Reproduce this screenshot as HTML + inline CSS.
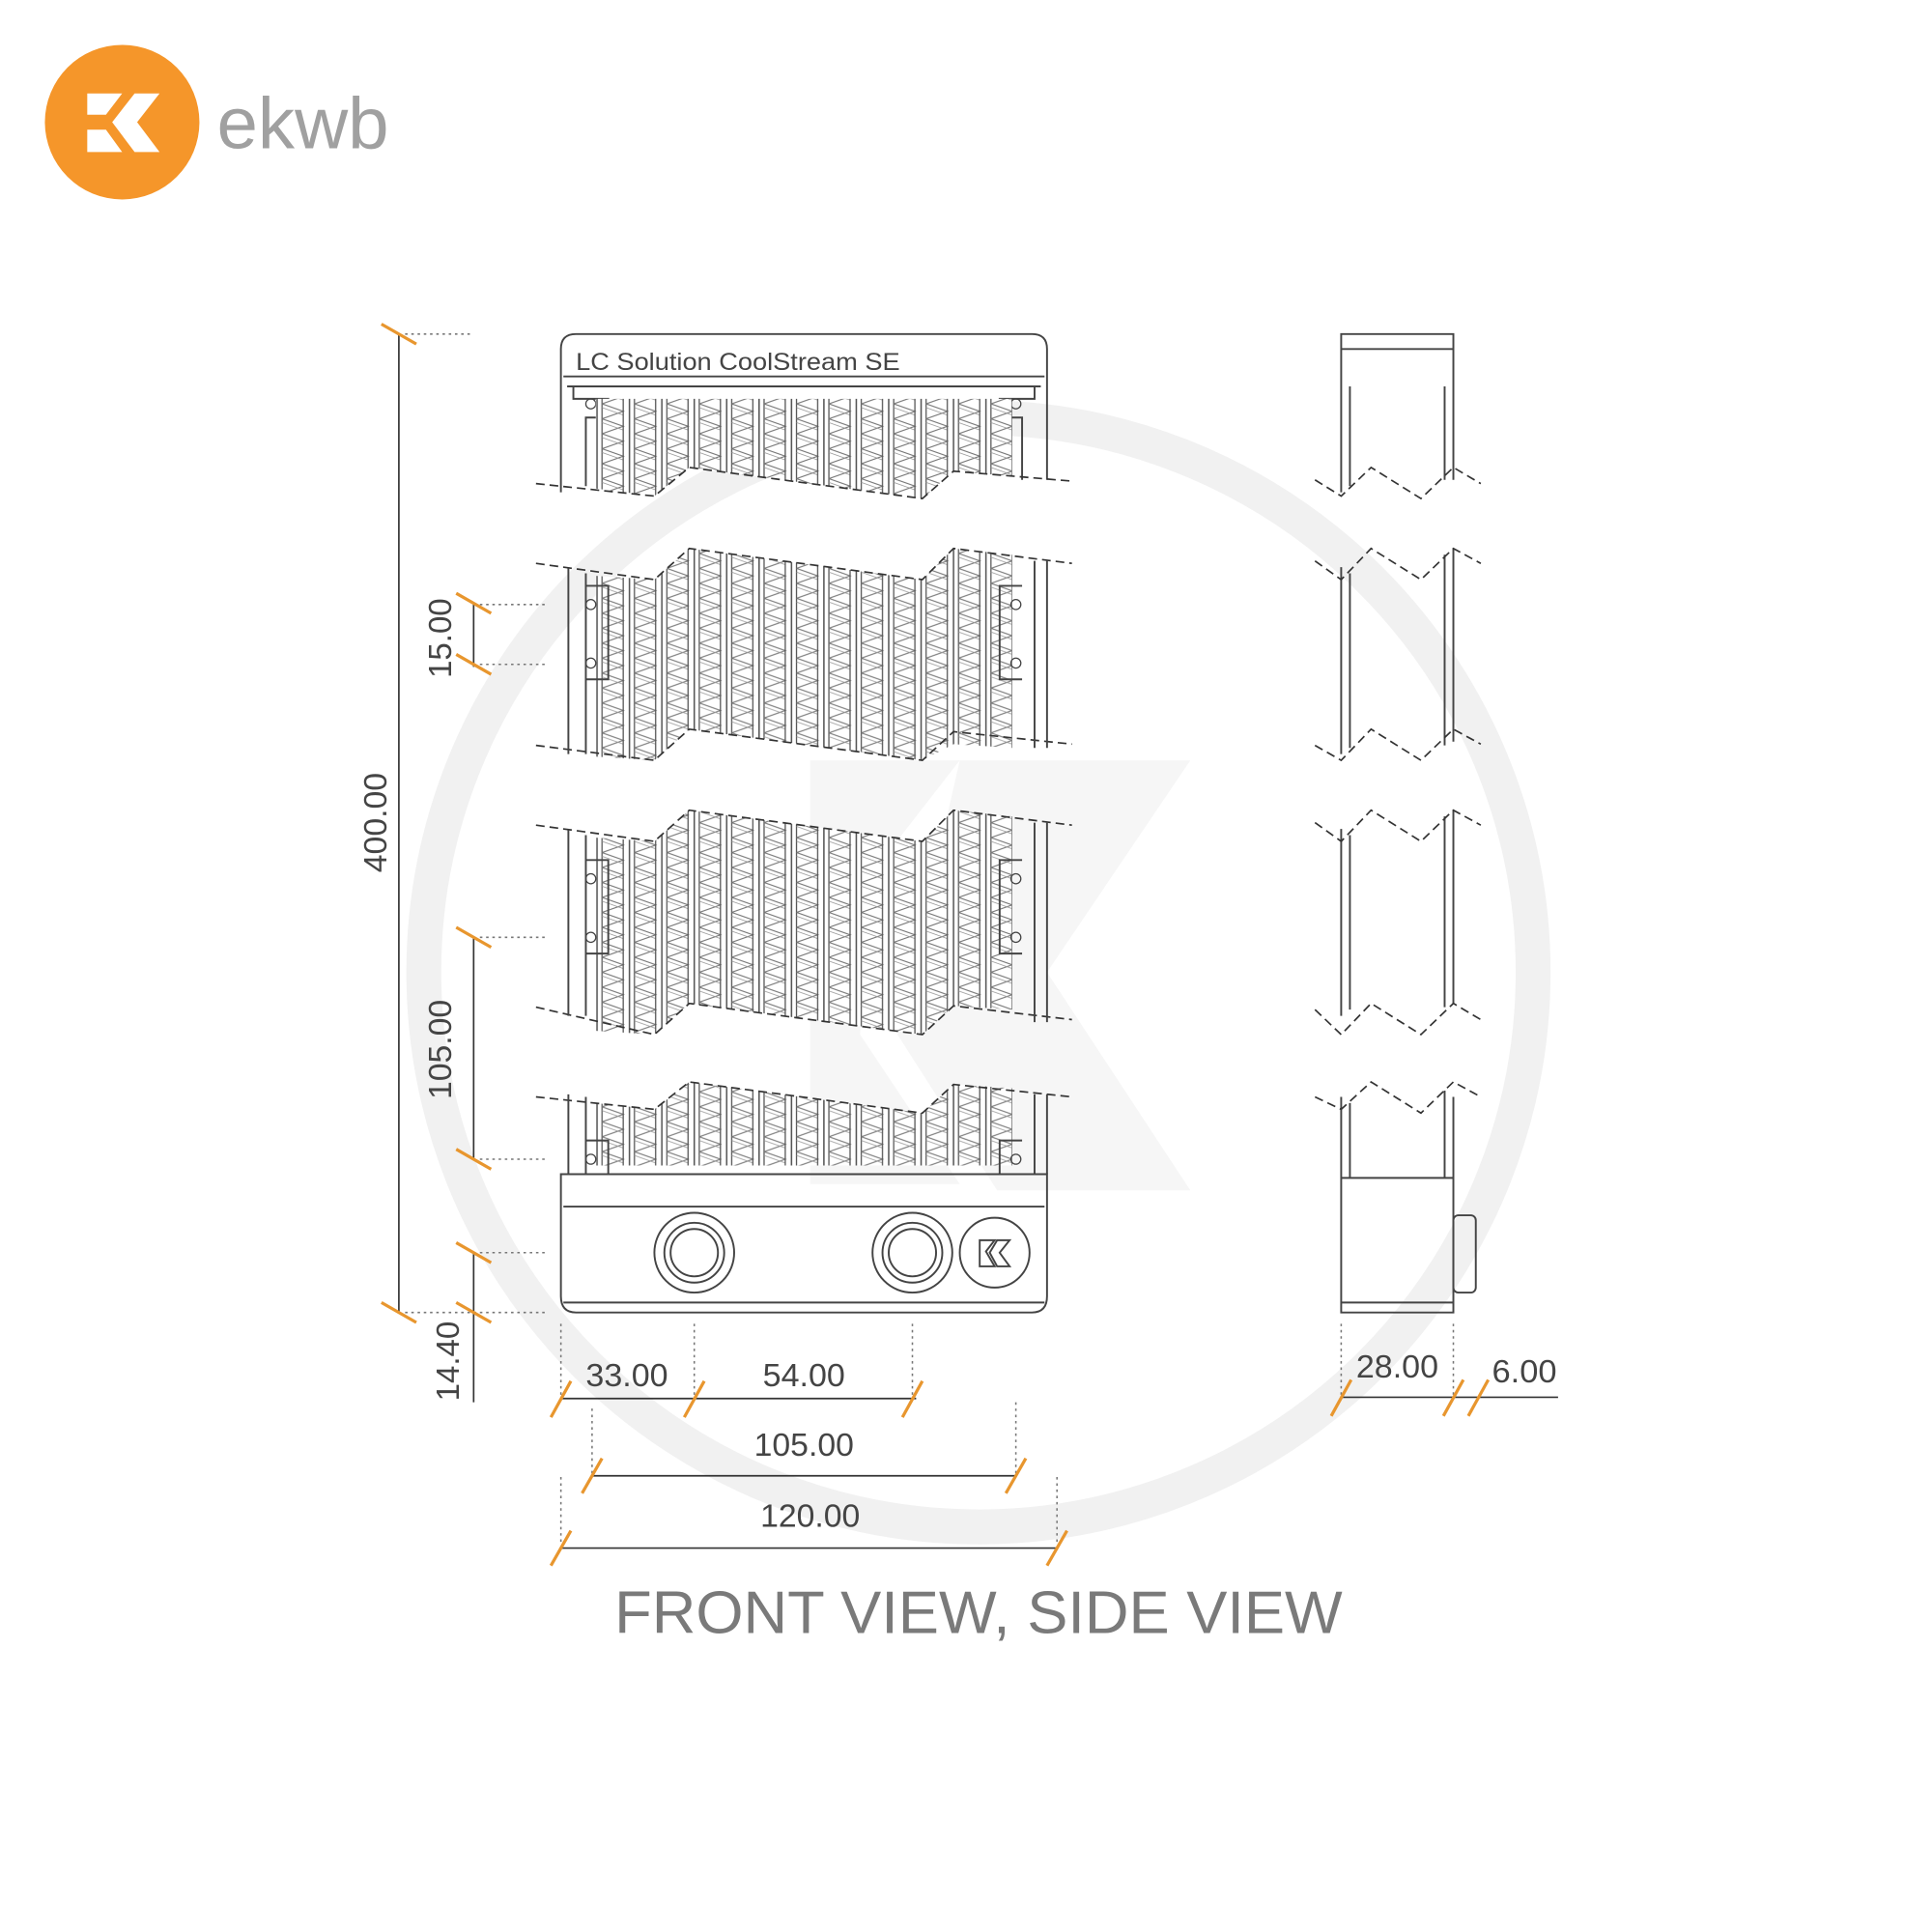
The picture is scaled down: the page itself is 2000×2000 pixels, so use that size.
<!DOCTYPE html>
<html><head><meta charset="utf-8"><style>
html,body{margin:0;padding:0;background:#fff}
svg{display:block}
</style></head><body>
<svg width="2000" height="2000" viewBox="0 0 1550 1550" xmlns="http://www.w3.org/2000/svg" font-family="Liberation Sans, sans-serif">
<defs>
<pattern id="fin" x="478" y="0" width="26" height="12" patternUnits="userSpaceOnUse">
<rect width="26" height="12" fill="#fff"/>
<line x1="1" y1="0" x2="1" y2="12" stroke="#555" stroke-width="1.2"/>
<line x1="5" y1="0" x2="5" y2="12" stroke="#555" stroke-width="1"/>
<polyline points="5,0 22,6 5,12" fill="none" stroke="#777" stroke-width="0.9"/>
<polyline points="5,3 22,9" fill="none" stroke="#999" stroke-width="0.6"/>
<line x1="22" y1="0" x2="22" y2="12" stroke="#555" stroke-width="1"/>
</pattern>
</defs>
<rect width="1550" height="1550" fill="#fff"/>
<circle cx="785" cy="780" r="445" fill="none" stroke="#f1f1f1" stroke-width="28"/>
<path d="M650 610 L770 610 L700 700 L690 830 L770 950 L650 950 Z M770 610 L955 610 L840 780 L955 955 L800 955 L720 830 Z" fill="#f6f6f6"/>
<circle cx="98" cy="98" r="62" fill="#f5962a"/>
<path d="M70 75 L98 75 L85 92 L70 92 Z M70 104 L85 104 L98 122 L70 122 Z M108 75 L128 75 L110 98 L128 122 L108 122 L90 98 Z" fill="#fff"/>
<text x="174" y="119" font-size="58" fill="#a0a0a0" textLength="138" lengthAdjust="spacingAndGlyphs">ekwb</text>

<g fill="none" stroke="#444" stroke-width="1.5">
<path d="M450 395 L450 280 Q450 268 462 268 L828 268 Q840 268 840 280 L840 385"/>
<line x1="452" y1="302" x2="838" y2="302"/>
<line x1="455" y1="310" x2="835" y2="310"/>
<path d="M460 310 L460 320 L488 320 L488 335 L470 335 L470 390"/>
<path d="M830 310 L830 320 L802 320 L802 335 L820 335 L820 385"/>
</g>
<text x="462" y="297" font-size="19" fill="#444" textLength="260" lengthAdjust="spacingAndGlyphs">LC Solution CoolStream SE</text>
<circle cx="474" cy="324" r="4" fill="none" stroke="#444"/>
<circle cx="815" cy="324" r="4" fill="none" stroke="#444"/>

<polygon points="478,320 812,320 812,382 765,378 740,400 553,375 525,398 478,392" fill="url(#fin)"/>
<polygon points="478,462 525,465 553,440 740,465 765,440 812,445 812,600 765,597 740,610 553,585 525,610 478,607" fill="url(#fin)"/>
<polygon points="478,672 525,675 553,650 740,675 765,650 812,655 812,810 765,807 740,830 553,805 525,830 478,827" fill="url(#fin)"/>
<polygon points="478,885 525,890 553,868 740,893 765,870 812,873 812,935 478,935" fill="url(#fin)"/>

<g fill="none" stroke="#333" stroke-width="1.3" stroke-dasharray="7,4">
<path d="M430 388 L525 398 L553 375 L740 400 L765 378 L860 386"/>
<path d="M430 452 L525 465 L553 440 L740 465 L765 440 L860 452"/>
<path d="M430 598 L525 610 L553 585 L740 610 L765 587 L860 597"/>
<path d="M430 662 L525 675 L553 650 L740 675 L765 650 L860 662"/>
<path d="M430 808 L525 830 L553 805 L740 830 L765 807 L860 818"/>
<path d="M430 880 L525 890 L553 868 L740 893 L765 870 L860 880"/>
</g>
<g fill="none" stroke="#444" stroke-width="1.5">
<path d="M456 456 V605 M470 460 V605 M470 470 H488 V545 H470 M840 450 V600 M830 450 V600 M820 470 H802 V545 H820"/>
<path d="M456 666 V815 M470 670 V815 M470 690 H488 V765 H470 M840 660 V820 M830 660 V820 M820 690 H802 V765 H820"/>
<path d="M456 878 V942 M470 880 V942 M470 915 H488 V942 M840 878 V942 M830 878 V942 M820 915 H802 V942"/>
<path d="M450 942 H840 V1040 Q840 1053 828 1053 H462 Q450 1053 450 1040 Z"/>
<line x1="452" y1="968" x2="838" y2="968"/>
<line x1="452" y1="1045" x2="838" y2="1045"/>
<circle cx="557" cy="1005" r="32"/><circle cx="557" cy="1005" r="24"/><circle cx="557" cy="1005" r="19"/>
<circle cx="732" cy="1005" r="32"/><circle cx="732" cy="1005" r="24"/><circle cx="732" cy="1005" r="19"/>
<circle cx="798" cy="1005" r="28"/>
<path d="M786 995 L798 995 L791 1004 L798 1016 L786 1016 Z M800 995 L810 995 L802 1005 L810 1016 L800 1016 L794 1005 Z"/>
</g>
<g fill="none" stroke="#444"><circle cx="474" cy="485" r="4"/><circle cx="474" cy="532" r="4"/><circle cx="815" cy="485" r="4"/><circle cx="815" cy="532" r="4"/>
<circle cx="474" cy="705" r="4"/><circle cx="474" cy="752" r="4"/><circle cx="815" cy="705" r="4"/><circle cx="815" cy="752" r="4"/>
<circle cx="474" cy="930" r="4"/><circle cx="815" cy="930" r="4"/></g>

<g fill="none" stroke="#444" stroke-width="1.5">
<path d="M1076 395 V268 H1166 V385 M1076 280 H1166 M1083 310 V390 M1159 310 V385"/>
<path d="M1076 455 V605 M1083 460 V600 M1166 440 V595 M1159 445 V598"/>
<path d="M1076 665 V815 M1083 670 V810 M1166 650 V805 M1159 655 V808"/>
<path d="M1076 880 V1053 H1166 V880 M1083 885 V945 M1159 875 V945 M1076 945 H1166 M1076 1045 H1166"/>
<rect x="1166" y="975" width="18" height="62" rx="4"/>
</g>
<g fill="none" stroke="#333" stroke-width="1.3" stroke-dasharray="7,4">
<path d="M1055 385 L1076 398 L1100 375 L1140 400 L1166 375 L1188 388"/>
<path d="M1055 450 L1076 465 L1100 440 L1140 465 L1166 440 L1188 452"/>
<path d="M1055 598 L1076 610 L1100 585 L1140 610 L1166 585 L1188 597"/>
<path d="M1055 660 L1076 675 L1100 650 L1140 675 L1166 650 L1188 662"/>
<path d="M1055 810 L1076 830 L1100 805 L1140 830 L1166 805 L1188 818"/>
<path d="M1055 880 L1076 890 L1100 868 L1140 893 L1166 868 L1188 880"/>
</g>

<g stroke="#333" stroke-width="1.3" fill="none">
<line x1="320" y1="268" x2="320" y2="1053"/>
<line x1="380" y1="485" x2="380" y2="535"/>
<line x1="380" y1="752" x2="380" y2="930"/>
<line x1="380" y1="1005" x2="380" y2="1125"/>
<line x1="450" y1="1122" x2="735" y2="1122"/>
<line x1="475" y1="1184" x2="815" y2="1184"/>
<line x1="450" y1="1242" x2="848" y2="1242"/>
<line x1="1076" y1="1121" x2="1250" y2="1121"/>
</g>
<g stroke="#777" stroke-width="1.2" stroke-dasharray="2,3" fill="none">
<line x1="325" y1="268" x2="380" y2="268"/>
<line x1="385" y1="485" x2="438" y2="485"/>
<line x1="385" y1="533" x2="438" y2="533"/>
<line x1="385" y1="752" x2="438" y2="752"/>
<line x1="385" y1="930" x2="438" y2="930"/>
<line x1="385" y1="1005" x2="438" y2="1005"/>
<line x1="325" y1="1053" x2="438" y2="1053"/>
<line x1="450" y1="1062" x2="450" y2="1120"/>
<line x1="557" y1="1062" x2="557" y2="1120"/>
<line x1="732" y1="1062" x2="732" y2="1120"/>
<line x1="475" y1="1130" x2="475" y2="1182"/>
<line x1="815" y1="1125" x2="815" y2="1182"/>
<line x1="450" y1="1185" x2="450" y2="1240"/>
<line x1="848" y1="1185" x2="848" y2="1240"/>
<line x1="1076" y1="1062" x2="1076" y2="1119"/>
<line x1="1166" y1="1062" x2="1166" y2="1119"/>
</g>
<g stroke="#e8962e" stroke-width="2.5">
<line x1="306" y1="260" x2="334" y2="276"/>
<line x1="306" y1="1045" x2="334" y2="1061"/>
<line x1="366" y1="476" x2="394" y2="492"/>
<line x1="366" y1="525" x2="394" y2="541"/>
<line x1="366" y1="744" x2="394" y2="760"/>
<line x1="366" y1="922" x2="394" y2="938"/>
<line x1="366" y1="997" x2="394" y2="1013"/>
<line x1="366" y1="1045" x2="394" y2="1061"/>
<line x1="442" y1="1137" x2="458" y2="1108"/>
<line x1="549" y1="1137" x2="565" y2="1108"/>
<line x1="724" y1="1137" x2="740" y2="1108"/>
<line x1="467" y1="1198" x2="483" y2="1170"/>
<line x1="807" y1="1198" x2="823" y2="1170"/>
<line x1="442" y1="1256" x2="458" y2="1228"/>
<line x1="840" y1="1256" x2="856" y2="1228"/>
<line x1="1068" y1="1136" x2="1084" y2="1107"/>
<line x1="1158" y1="1136" x2="1174" y2="1107"/>
<line x1="1178" y1="1136" x2="1194" y2="1107"/>
</g>
<g font-size="26" fill="#444" lengthAdjust="spacingAndGlyphs">
<text transform="translate(310,660) rotate(-90)" text-anchor="middle" textLength="80" lengthAdjust="spacingAndGlyphs">400.00</text>
<text transform="translate(362,512) rotate(-90)" text-anchor="middle" textLength="64" lengthAdjust="spacingAndGlyphs">15.00</text>
<text transform="translate(362,842) rotate(-90)" text-anchor="middle" textLength="80" lengthAdjust="spacingAndGlyphs">105.00</text>
<text transform="translate(368,1092) rotate(-90)" text-anchor="middle" textLength="64" lengthAdjust="spacingAndGlyphs">14.40</text>
<text x="503" y="1112" text-anchor="middle" textLength="66" lengthAdjust="spacingAndGlyphs">33.00</text>
<text x="645" y="1112" text-anchor="middle" textLength="66" lengthAdjust="spacingAndGlyphs">54.00</text>
<text x="645" y="1168" text-anchor="middle" textLength="80" lengthAdjust="spacingAndGlyphs">105.00</text>
<text x="650" y="1225" text-anchor="middle" textLength="80" lengthAdjust="spacingAndGlyphs">120.00</text>
<text x="1121" y="1105" text-anchor="middle" textLength="66" lengthAdjust="spacingAndGlyphs">28.00</text>
<text x="1223" y="1109" text-anchor="middle" textLength="52" lengthAdjust="spacingAndGlyphs">6.00</text>
</g>
<text x="785" y="1310" font-size="48" fill="#7a7a7a" text-anchor="middle" textLength="584" lengthAdjust="spacingAndGlyphs">FRONT VIEW, SIDE VIEW</text>
</svg>
</body></html>
